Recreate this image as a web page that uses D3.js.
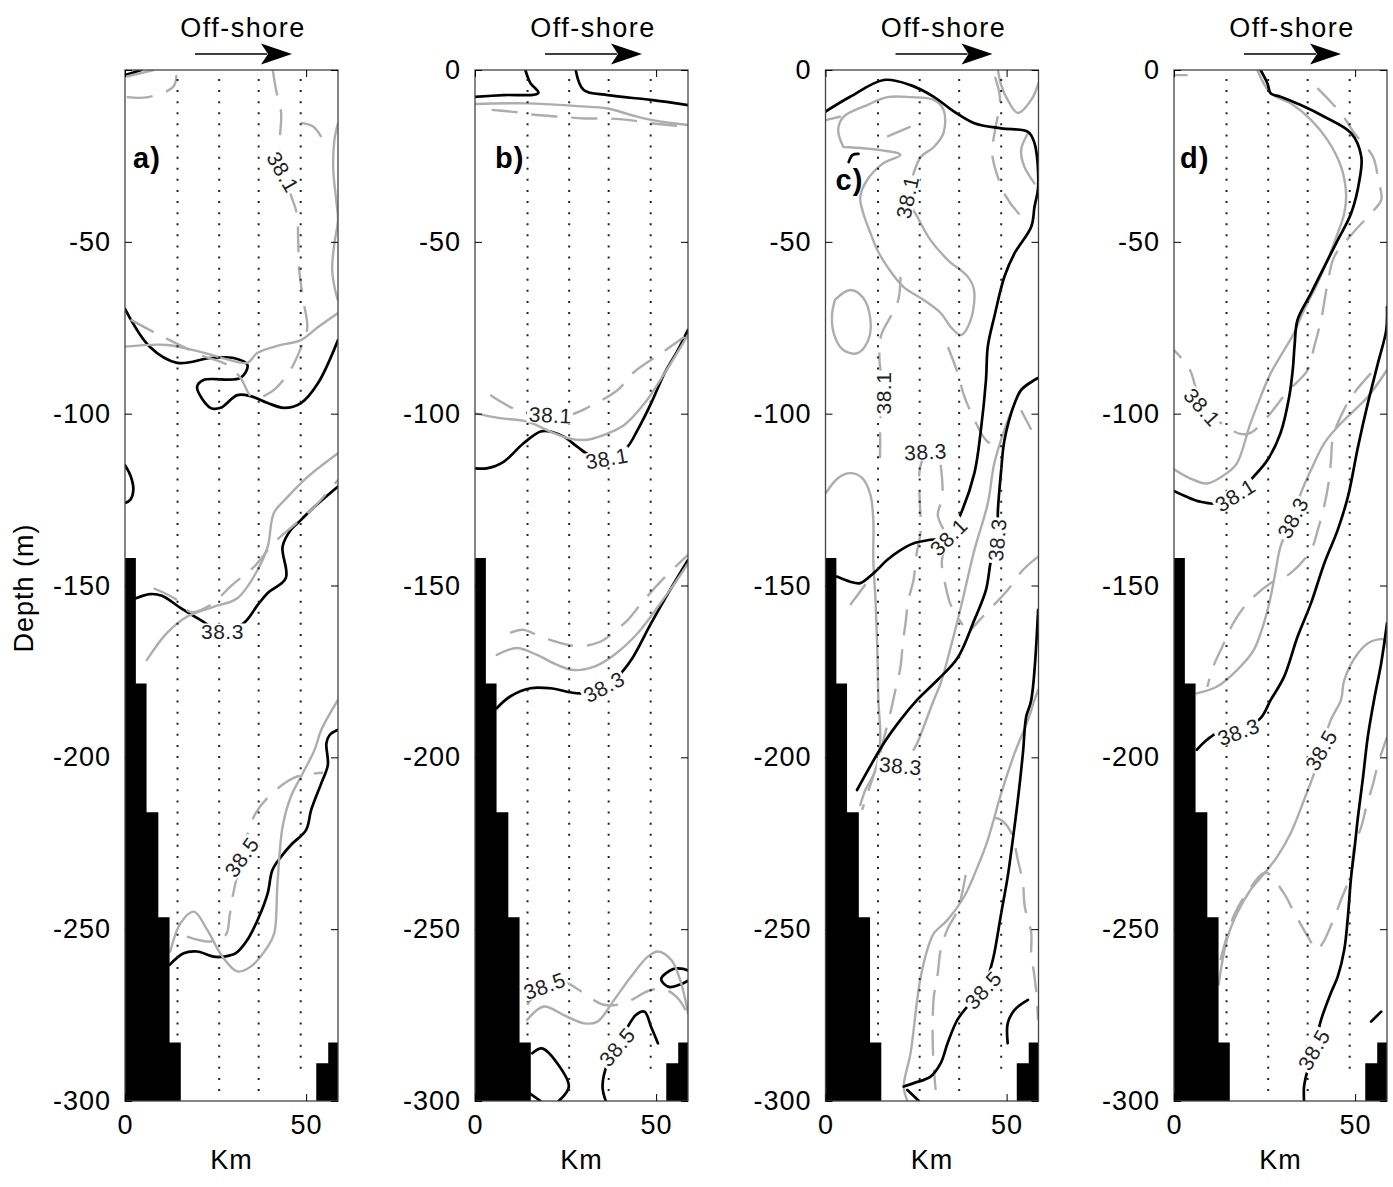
<!DOCTYPE html>
<html><head><meta charset="utf-8">
<script src="https://cdn.jsdelivr.net/npm/d3@7"></script>
<style>
body{margin:0;background:#fff;}
svg text{font-family:"Liberation Sans",Arial,Helvetica,sans-serif;}
</style></head><body>
<svg id="chart" width="1393" height="1187"></svg>
<script>
// ---------------- DATA (km offshore, depth m) ----------------
const panelNames = ['a)','b)','c)','d)'];
const yTicks = [0,-50,-100,-150,-200,-250,-300];
const xTicks = [0,50];
const stationKm = [14.5,26.0,36.9,48.5];
const stationTop = -2.6;
const stationBottom = [-282,-298,-298,-292];
const bathyLeft = [[0,-300],[0,-142],[3.0,-142],[3.0,-178.5],[5.95,-178.5],[5.95,-216],[9.2,-216],[9.2,-246.5],[12.3,-246.5],[12.3,-283],[15.4,-283],[15.4,-300]];
const bathyRight = [[52.8,-300],[52.8,-289],[56.1,-289],[56.1,-283],[58.8,-283],[58.8,-300]];

// panel a
const a_k0 = [[0,-1.5],[4.5,0]];
const a_k1 = [[0,-69.5],[6.9,-80.6],[14.4,-85.2],[23.6,-83.8],[30.0,-83.8],[33.8,-85.8],[31.9,-89.6],[21.7,-90.2],[19.9,-92.2],[23.6,-98.3],[26.4,-98.3],[31.0,-94.6],[34.7,-94.9],[39.4,-96.9],[43.9,-98.3],[48.6,-96.9],[53.3,-91.1],[58.8,-78.6]];
const a_k2 = [[0,-115],[1.5,-118],[2.3,-122],[1.5,-125],[0,-126]];
const a_k3 = [[3.0,-153.7],[6.9,-152.5],[10.2,-153.0],[15.3,-156.5],[20.8,-160.0],[26.9,-163.5],[32.8,-160.9],[36.6,-155.7],[39.4,-152.2],[44.4,-147.8],[43.5,-138.7],[45.8,-133.8],[48.6,-130.9],[52.3,-127.1],[58.8,-121.2]];
const a_k4 = [[12.3,-260.4],[16.2,-257.0],[19.9,-256.5],[24.5,-258.0],[27.3,-258.0],[30.6,-257.0],[33.8,-253.1],[37.0,-246.4],[39.4,-239.5],[40.7,-232.8],[43.1,-228.9],[45.8,-225.5],[50.0,-221.1],[51.4,-215.3],[54.2,-207.5],[56.0,-202.2],[55.6,-195.9],[56.5,-193.5],[58.8,-192.0]];
const a_g1 = [[0,-80.5],[11.6,-80.0],[20.8,-82.0],[30.0,-84.7],[33.8,-85.2],[36.6,-82.3],[43.1,-80.0],[48.6,-78.6],[53.3,-74.8],[58.8,-70.7]];
const a_g2 = [[0.5,-1.9],[7.9,0]];
const a_g3 = [[58.8,-15.5],[57.8,-20.4],[57.5,-29.1],[58.3,-37.8],[58.8,-43.6],[57.8,-50.4],[57.2,-58.2],[58.0,-64.0],[58.8,-67]];
const a_g4 = [[6.0,-171.7],[11.6,-163.8],[17.1,-159.1],[24.4,-156.2],[31.0,-153.7],[36.6,-145.5],[39.4,-138.7],[41.1,-128.9],[44.9,-124.2],[50.5,-118.3],[58.8,-111.5]];
const a_g5 = [[12.5,-256.5],[15.3,-248.3],[19.0,-244.9],[22.7,-250.2],[26.9,-258.0],[31.0,-262.3],[34.7,-260.9],[39.4,-255.1],[41.2,-251.2],[42.1,-236.6],[43.5,-220.2],[45.8,-211.4],[48.6,-205.6],[52.3,-197.9],[54.2,-192.0],[58.8,-183.3]];
const a_gd1 = [[40.8,0],[41.7,-5.8],[43.1,-12.5],[42.8,-18.9],[42.5,-23.3],[43.6,-29.7],[45.8,-36.4],[47.5,-42.2],[47.8,-49.5],[48.1,-58.2],[49.2,-66.9],[50.3,-75.1],[48.1,-82.0],[45.3,-87.9],[40.3,-93.7],[35.3,-95.4],[31.9,-89.6],[28.2,-85.8],[20.8,-82.9],[13.3,-79.1],[8.3,-76.5],[0.8,-72.2]];
const a_gd2 = [[0.5,-7.9],[6.4,-7.9],[13.3,-4.9],[14.2,-1.5]];
const a_gd3 = [[48.6,-15.4],[52,-16.5],[54.2,-19.5]];
const a_gd4 = [[7.9,-150.8],[14.4,-154.2],[18.1,-157.7],[23.6,-155.7],[29.6,-149.8],[35.6,-144.6],[41.1,-137.6],[46.7,-132.4],[52.3,-127.1],[58.8,-119.3]];
const a_gd5 = [[17.1,-252.2],[23.6,-253.6],[27.8,-251.7],[28.9,-245.9],[29.7,-240.6],[32.2,-229.0],[36.1,-216.2],[41.7,-209.5],[47.2,-205.7],[54.7,-204.5]];

// panel b
const b_k1 = [[13.9,0],[15.3,-3.8],[17.5,-6.7],[7.8,-7.3],[0,-7.8]];
const b_k2 = [[27.8,0],[30.0,-5.8],[36.7,-7.3],[48.6,-8.7],[58.8,-10.2]];
const b_k3 = [[0,-115.9],[3.2,-115.9],[7.9,-114.0],[13.4,-108.6],[18.1,-105.2],[20.8,-105.2],[24.5,-106.7],[28.2,-109.6],[31.5,-112.0],[36.4,-113.0],[41.7,-110.1],[44.9,-104.7],[48.6,-97.0],[52.3,-88.3],[56.0,-81.5],[58.8,-75.6]];
const b_k4 = [[6.0,-185.7],[9.7,-182.3],[15.3,-179.9],[20.8,-179.9],[29.2,-181.4],[35.6,-179.5],[39.4,-176.5],[43.1,-171.7],[48.6,-161.0],[53.3,-152.3],[58.8,-142.6]];
const b_k5 = [[58.8,-262.0],[57,-261.5],[54.7,-261.6],[51.4,-264.5],[53.5,-266.8],[56.9,-266.0],[58.8,-265.0]];
const b_k6 = [[50.5,-283.2],[48.6,-278.4],[46.8,-274.0],[44.4,-275.0],[39.2,-284.3],[36.6,-289.0],[35.2,-295.8],[36.1,-300]];
const b_k7 = [[15.8,-286.1],[18.5,-284.7],[22.7,-289.0],[25.9,-295.8],[23.1,-300]];
const b_k8 = [[15.3,-297.9],[18.1,-300]];
const b_g1 = [[0,-9.9],[14.4,-9.7],[28.3,-10.5],[36.6,-11.2],[43.1,-13.1],[48.6,-14.5],[58.8,-16.0]];
const b_g2 = [[0,-99.9],[6.9,-101.3],[14.4,-102.3],[20.8,-105.2],[25.5,-107.1],[31.0,-107.6],[35.6,-106.2],[41.2,-103.3],[46.8,-97.0],[52.3,-88.3],[58.8,-77.1]];
const b_g3 = [[6.0,-170.2],[11.6,-168.2],[17.1,-170.2],[22.7,-173.1],[27.3,-174.6],[32.9,-173.6],[38.4,-170.2],[44.9,-163.9],[50.5,-156.2],[55.1,-149.4],[58.8,-143.6]];
const b_g4 = [[14.4,-276.4],[19.0,-272.5],[24.5,-275.0],[30.1,-277.4],[33.8,-276.9],[38.4,-270.6],[43.1,-263.8],[47.7,-258.0],[50.5,-256.5],[54.2,-259.0],[56.9,-265.7],[58.8,-274.5]];
const b_gd1 = [[4.6,-11.6],[12.5,-12.4],[17.1,-13.1],[23.6,-13.6],[30.1,-14.1],[36.6,-14.1],[42.1,-14.5],[48.6,-15.5],[58.8,-16.5]];
const b_gd2 = [[4.2,-94.6],[11.6,-98.9],[20.8,-100.4],[26.9,-100.1],[31.5,-98.0],[39.4,-93.1],[44.0,-87.8],[51.4,-82.4],[57.8,-77.6]];
const b_gd3 = [[9.7,-163.8],[13.3,-162.9],[17.2,-164.4],[22.2,-166.3],[25.8,-167.3],[29.7,-167.6],[34.7,-166.3],[38.9,-163.0],[42.2,-160.0],[46.7,-154.2],[52.2,-147.8],[58.8,-141.1]];
const b_gd4 = [[14.4,-272.0],[19.2,-266.5],[25.0,-265.6],[28.7,-267.7],[35.6,-272.0],[41.2,-271.5],[48.6,-267.7],[52.8,-267.7],[56.4,-270.6],[58.8,-275.0]];

// panel c
const c_k1 = [[0,-12.1],[6.8,-7.8],[16.1,-2.9],[23.5,-4.4],[29.9,-7.8],[35.5,-12.1],[41.1,-15.5],[48.5,-17.0],[55.9,-18.0],[57.7,-21.3],[58.7,-34.0],[57.7,-39.8],[56.8,-45.6],[52.2,-53.3],[49.4,-60.1],[46.6,-71.8],[44.8,-80.5],[44.3,-90.2],[42.9,-104.7],[41.1,-117.3],[37.4,-129.0],[34.0,-135.9],[29.0,-136.7],[24.4,-137.7],[20.7,-139.7],[17.0,-142.6],[13.3,-146.4],[9.6,-149.3],[6.8,-148.9],[3.1,-147.4]];
const c_k2 = [[6.4,-26.8],[7.5,-24.7],[9.1,-24.4]];
const c_k3 = [[58.7,-89.6],[57.7,-90.2],[54.0,-93.1],[52.2,-97.0],[49.4,-107.7],[48.5,-116.4],[47.6,-128.0],[47.4,-136.7],[45.7,-142.6],[44.3,-151.3],[41.1,-160.0],[36.4,-171.2],[30.9,-177.5],[25.3,-183.3],[20.7,-189.1],[16.1,-195.9],[8.7,-209.5]];
const c_k4 = [[58.7,-157.1],[56.8,-183.3],[55.4,-188.2],[54.5,-198.8],[53.1,-212.4],[51.7,-224.0],[50.3,-234.7],[48.5,-245.4],[46.6,-257.0],[45.7,-260.9],[43.5,-267.7],[39.2,-272.5],[36.4,-276.4],[33.7,-283.2],[31.8,-289.0],[29.0,-292.9],[24.4,-294.8],[21.6,-295.8]];
const c_k5 = [[22.6,-296.8],[25.8,-300]];
const c_k6 = [[50.3,-283.2],[50.3,-277.4],[52.2,-273.5],[55.9,-270.6]];
const c_g1 = [[4.9,-22.4],[15.1,-23.3],[20.7,-24.7],[16.0,-27.1],[11.5,-32.0],[9.6,-37.0],[10.4,-41.6],[12.4,-47.4],[14.3,-52.4],[17.1,-57.3],[21.5,-63.1],[27.1,-66.9],[31.8,-70.7],[34.6,-74.8],[37.4,-77.1],[40.1,-72.7],[41.0,-64.0],[39.3,-60.2],[33.8,-55.3],[29.0,-49.5],[25.4,-42.8],[22.6,-37.0],[24.0,-31.1],[26.3,-25.3],[29.9,-22.4],[32.6,-18.3],[32.6,-11.6],[29.9,-8.7],[23.5,-7.9],[17.1,-7.9],[11.5,-10.2],[4.9,-13.7],[3.5,-17.5],[4.9,-22.4]];
const c_g1b = [[0.3,-14.5],[4.0,-13.6]];
const c_g2 = [[2.6,-66.9],[6.8,-64.0],[10.4,-66.3],[12.4,-72.7],[11.8,-78.6],[8.8,-82.4],[4.9,-81.5],[2.4,-77.1],[1.8,-71.3],[2.6,-66.9]];
const c_g3 = [[47.6,0],[48.5,-4.4],[50.3,-8.7],[53.1,-12.5],[56.8,-8.7],[58.8,-3.8]];
const c_g4 = [[55.9,-18.4],[54.0,-23.3],[54.9,-28.1],[57.7,-33.0]];
const c_g5 = [[0.1,-123.1],[3.5,-118.7],[6.8,-117.3],[10.1,-118.7],[12.4,-123.6],[13.2,-130.9],[13.2,-142.6],[13.8,-154.2],[14.3,-168.7],[14.6,-183.3],[15.1,-195.0],[13.8,-203.7],[11.0,-209.5],[9.6,-213.9]];
const c_g6 = [[58.7,-89.6],[57.7,-90.2],[54.9,-92.1],[52.2,-97.0],[49.4,-104.7],[46.6,-114.4],[44.8,-126.1],[41.1,-139.7],[37.4,-156.2],[34.6,-167.8],[31.8,-178.4],[29.9,-183.3],[25.3,-195.9],[24.3,-197.8]];
const c_g7 = [[22.6,-300],[21.6,-295.8],[23.5,-286.0],[25.3,-270.6],[26.3,-263.8],[28.1,-256.0],[29.9,-251.2],[33.7,-247.3],[38.3,-240.5],[42.0,-231.8],[44.8,-224.0],[48.5,-210.5],[52.2,-198.8],[55.9,-189.1],[57.7,-183.3],[58.7,-180.4]];
const c_gd1 = [[46.8,-2.0],[48.2,-8.7],[46.8,-17.5],[46.0,-24.2],[47.4,-30.6],[49.6,-36.4],[53.2,-41.6],[57.1,-45.1]];
const c_gd2 = [[17.0,-19.4],[23.5,-16.5]];
const c_gd3 = [[20.7,-60.2],[20.1,-66.9],[18.2,-71.3],[15.4,-77.1],[14.9,-84.4],[16.0,-94.0],[15.1,-101.8],[15.1,-109.0],[14.9,-116.4]];
const c_gd4 = [[27.6,-111.1],[26.0,-116.4],[26.0,-125.1],[26.3,-133.8],[25.1,-141.1],[24.3,-148.4],[22.9,-154.2],[22.1,-160.9],[21.3,-167.3],[20.7,-173.7],[19.3,-180.4],[17.9,-187.1],[16.0,-194.9],[14.6,-200.8],[12.4,-208.0],[10.1,-215.3]];
const c_gd5 = [[31.8,-114.9],[32.3,-124.2],[31.0,-129.5],[33.2,-135.9],[32.1,-143.4],[33.2,-150.4],[34.6,-155.7],[37.9,-161.5]];
const c_gd6 = [[33.8,-80.6],[36.5,-88.2],[38.2,-94.6],[40.9,-101.3],[44.3,-107.7],[47.1,-109.7]];
const c_gd7 = [[58.7,-141.6],[54.5,-145.5],[50.3,-151.3],[43.4,-159.1],[40.1,-162.9]];
const c_gd8 = [[46.5,-217.6],[48.5,-218.2],[51.3,-222.0],[53.1,-229.9],[54.5,-236.5],[55.0,-243.4],[56.8,-251.1],[56.8,-256.9],[57.7,-263.8],[58.2,-268.6],[58.7,-276.4]];
const c_gd9 = [[38.7,-234.2],[36.5,-244.4],[33.8,-249.7],[31.8,-256.0],[31.0,-262.8],[29.9,-269.7],[29.6,-276.4],[29.6,-283.1],[29.9,-290.1],[30.4,-296.8]];
const c_gd10 = [[6.8,-155.7],[11.3,-149.3]];
const c_gd11 = [[54.0,-99.0],[56.8,-104.7]];

// panel d
const d_k1 = [[23.9,0],[25.8,-3.9],[26.7,-6.8],[29.4,-7.8],[35.0,-10.2],[41.5,-13.6],[48.9,-18.4],[51.7,-25.2],[51.2,-32.0],[48.9,-41.7],[45.2,-49.5],[41.5,-57.2],[37.8,-65.0],[34.1,-72.7],[33.3,-80.0],[32.8,-87.0],[31.8,-95.1],[29.4,-105.7],[25.8,-113.5],[22.0,-118.3],[16.9,-123.7],[11.9,-126.1],[7.2,-125.6],[3.5,-124.2],[0,-122.5]];
const d_k2 = [[58.8,-69.0],[58.6,-75.6],[56.3,-85.3],[53.5,-97.0],[50.8,-109.6],[48.0,-124.2],[45.2,-133.8],[41.5,-143.5],[37.8,-155.2],[34.1,-164.9],[30.4,-176.5],[26.7,-183.3],[23.9,-188.6],[17.8,-192.6],[11.9,-193.0],[9.1,-194.9],[6.3,-197.8]];
const d_k3 = [[35.9,-300],[35.9,-295.8],[36.9,-290.9],[38.6,-285.1],[40.6,-276.4],[43.3,-268.6],[45.2,-263.8],[47.0,-256.0],[48.0,-246.4],[48.9,-234.7],[49.8,-226.9],[50.8,-217.2],[52.2,-205.6],[53.5,-194.0],[55.4,-182.3],[57.2,-172.6],[58.8,-161.0]];
const d_k4 = [[54.4,-276.9],[57.2,-274.0]];
const d_g1 = [[23.0,0],[26.7,-6.8],[32.2,-9.7],[37.8,-14.5],[42.4,-20.4],[46.1,-28.1],[47.5,-35.9],[47.0,-41.7],[45.2,-47.5],[42.4,-55.3],[39.6,-62.1],[35.9,-69.8],[33.1,-76.6],[30.4,-81.5],[26.7,-88.2],[23.9,-95.1],[21.1,-102.8],[17.4,-114.4],[14.6,-117.3],[9.1,-120.3],[4.4,-118.8],[0,-116.2]];
const d_g2 = [[6.3,-181.4],[11.9,-179.4],[17.4,-174.6],[22.0,-168.8],[24.8,-161.0],[26.7,-153.2],[28.1,-145.5],[29.4,-138.7],[32.8,-130.3],[35.0,-123.2],[37.8,-116.4],[41.5,-108.6],[45.2,-103.8],[48.9,-99.9],[53.5,-95.1],[58.8,-87.3]];
const d_g3 = [[12.3,-266.2],[14.6,-253.1],[17.4,-245.4],[21.1,-238.6],[25.3,-233.3],[28.5,-228.9],[32.2,-222.1],[35.9,-212.4],[38.7,-204.6],[40.6,-197.9],[43.3,-189.1],[46.1,-183.3],[47.0,-177.5],[50.8,-169.7],[54.4,-166.3],[58.1,-165.8],[58.8,-167.9]];
const d_g4 = [[0.3,-1.5],[3.5,-1.5]];
const d_gd1 = [[39.6,-5.3],[46.1,-12.6],[49.8,-18.4],[54.9,-25.2],[56.4,-32.0],[57.2,-37.8],[53.9,-42.2],[48.9,-48.0],[44.2,-54.4],[42.4,-62.1],[40.6,-72.7],[38.7,-80.5],[36.9,-87.3],[31.3,-93.6],[25.8,-100.9],[21.1,-105.6],[18.3,-105.9],[14.7,-103.9],[7.8,-98.1],[4.4,-87.3],[0,-81.5]];
const d_gd3 = [[54.4,-88.2],[49.7,-94.0],[46.9,-98.9],[43.9,-106.8],[43.3,-114.1],[42.5,-121.3],[41.4,-127.1],[39.7,-133.8],[37.8,-139.7],[32.2,-146.4],[26.7,-149.3],[20.3,-155.1],[16.4,-160.9],[13.3,-167.9],[10.8,-173.7],[9.2,-179.5]];
const d_gd4 = [[12.8,-259.0],[16.4,-246.4],[20.3,-239.2],[25.3,-233.6],[30.3,-239.5],[33.1,-245.0],[37.2,-252.6],[39.4,-256.0],[41.1,-254.0],[44.2,-246.7],[46.1,-241.5],[48.9,-233.6],[49.7,-226.1],[51.7,-220.2],[53.1,-214.4],[55.0,-207.5],[56.4,-201.6],[58.8,-194.1]];

// contour labels: [panel, km, depth, text, angle]
const contourLabels = [
  [0,43.6,-29.7,'38.1',60],[0,26.9,-163.5,'38.3',0],[0,32.2,-229.0,'38.5',-55],
  [1,20.8,-100.4,'38.1',3],[1,36.4,-113.0,'38.1',-10],[1,35.6,-179.5,'38.3',-28],[1,19.2,-266.5,'38.5',-20],[1,39.2,-284.3,'38.5',-50],
  [2,22.6,-37.0,'38.1',-78],[2,16.0,-94.0,'38.1',-90],[2,27.6,-111.1,'38.3',-3],[2,34.0,-135.9,'38.1',-45],[2,47.4,-136.7,'38.3',-85],[2,20.7,-202.5,'38.3',5],[2,43.5,-267.7,'38.5',-48],
  [3,7.8,-98.1,'38.1',48],[3,16.9,-123.7,'38.1',-32],[3,32.8,-130.3,'38.3',-62],[3,17.8,-192.6,'38.3',-20],[3,40.6,-197.9,'38.5',-60],[3,38.6,-285.1,'38.5',-60]
];

const contours = [
  [0,'k',a_k0],[0,'k',a_k1],[0,'k',a_k2],[0,'k',a_k3],[0,'k',a_k4],
  [0,'g',a_g1],[0,'g',a_g2],[0,'g',a_g3],[0,'g',a_g4],[0,'g',a_g5],
  [0,'gd',a_gd1],[0,'gd',a_gd2],[0,'gd',a_gd3],[0,'gd',a_gd4],[0,'gd',a_gd5],
  [1,'k',b_k1],[1,'k',b_k2],[1,'k',b_k3],[1,'k',b_k4],[1,'k',b_k5],[1,'k',b_k6],[1,'k',b_k7],[1,'k',b_k8],
  [1,'g',b_g1],[1,'g',b_g2],[1,'g',b_g3],[1,'g',b_g4],
  [1,'gd',b_gd1],[1,'gd',b_gd2],[1,'gd',b_gd3],[1,'gd',b_gd4],
  [2,'g',c_g1],[2,'g',c_g1b],[2,'g',c_g2],[2,'g',c_g3],[2,'g',c_g4],[2,'g',c_g5],[2,'g',c_g6],[2,'g',c_g7],
  [2,'gd',c_gd1],[2,'gd',c_gd2],[2,'gd',c_gd3],[2,'gd',c_gd4],[2,'gd',c_gd5],[2,'gd',c_gd6],[2,'gd',c_gd7],[2,'gd',c_gd8],[2,'gd',c_gd9],[2,'gd',c_gd10],[2,'gd',c_gd11],
  [2,'k',c_k1],[2,'k',c_k2],[2,'k',c_k3],[2,'k',c_k4],[2,'k',c_k5],[2,'k',c_k6],
  [3,'g',d_g1],[3,'g',d_g2],[3,'g',d_g3],[3,'g',d_g4],
  [3,'gd',d_gd1],[3,'gd',d_gd3],[3,'gd',d_gd4],
  [3,'k',d_k1],[3,'k',d_k2],[3,'k',d_k3],[3,'k',d_k4]
];

// ---------------- LAYOUT / STYLE ----------------
const lefts = [125,475,825.5,1174];
const PW = 213, TOP = 70, BOT = 1101;
const styles = {
  k:{stroke:'#000', w:2.7, dash:null},
  g:{stroke:'#adadad', w:2.4, dash:null},
  gd:{stroke:'#adadad', w:2.4, dash:'26,14'}
};
const nameOffsets = [[8,168],[20,168],[10,190],[6,168]];
const FONT = 27;

const svg = d3.select('#chart');
const y = d3.scaleLinear().domain([0,-300]).range([TOP,BOT]);

svg.append('text').attr('transform','translate(33,588) rotate(-90)')
  .attr('text-anchor','middle').attr('font-size',FONT).attr('letter-spacing',1).text('Depth (m)');

lefts.forEach((L,i)=>{
  const x = d3.scaleLinear().domain([0,58.8]).range([L,L+PW]);
  const cid = 'clip'+i;
  svg.append('clipPath').attr('id',cid).append('rect')
    .attr('x',L).attr('y',TOP).attr('width',PW).attr('height',BOT-TOP);
  const plot = svg.append('g').attr('clip-path',`url(#${cid})`);
  const line = d3.line().x(d=>x(d[0])).y(d=>y(d[1])).curve(d3.curveCatmullRom.alpha(0.5));
  const poly = d3.line().x(d=>x(d[0])).y(d=>y(d[1]));

  contours.filter(c=>c[0]===i).forEach(c=>{
    const s = styles[c[1]];
    plot.append('path').attr('d',line(c[2])).attr('fill','none')
      .attr('stroke',s.stroke).attr('stroke-width',s.w)
      .attr('stroke-dasharray',s.dash)
      .attr('stroke-linejoin','round').attr('stroke-linecap',c[1]==='gd'?'butt':'round');
  });

  plot.append('path').attr('d',poly(bathyLeft)+'Z').attr('fill','#000');
  plot.append('path').attr('d',poly(bathyRight)+'Z').attr('fill','#000');

  stationKm.forEach((k,j)=>{
    plot.append('line').attr('x1',x(k)).attr('x2',x(k))
      .attr('y1',y(stationTop)).attr('y2',y(stationBottom[j]))
      .attr('stroke','#222').attr('stroke-width',2).attr('stroke-dasharray','2,9.1');
  });

  contourLabels.filter(l=>l[0]===i).forEach(l=>{
    const gl = plot.append('g').attr('transform',`translate(${x(l[1])},${y(l[2])}) rotate(${l[4]})`);
    const t = gl.append('text')
      .attr('text-anchor','middle').attr('dy','0.36em')
      .attr('font-size',21).attr('letter-spacing',0.5)
      .attr('fill','#222').text(l[3]);
    const bb = t.node().getBBox();
    gl.insert('rect','text').attr('x',bb.x-2).attr('y',bb.y+3)
      .attr('width',bb.width+3).attr('height',Math.max(0,bb.height-6)).attr('fill','#fff');
  });

  // frame
  svg.append('rect').attr('x',L).attr('y',TOP).attr('width',PW).attr('height',BOT-TOP)
    .attr('fill','none').attr('stroke','#444').attr('stroke-width',1.3);

  // axes
  const ax = g=>g.attr('font-size',FONT).attr('font-family','"Liberation Sans",Arial,sans-serif').style('color','#000');
  svg.append('g').attr('transform',`translate(${L},0)`)
    .call(d3.axisLeft(y).tickValues(yTicks).tickSize(-7).tickPadding(14)
      .tickFormat(d=> (i===0 && d===0) ? '' : String(d)))
    .call(ax).call(g=>g.select('.domain').remove())
    .call(g=>g.selectAll('text').attr('letter-spacing',1));
  svg.append('g').attr('transform',`translate(${L+PW},0)`)
    .call(d3.axisRight(y).tickValues(yTicks).tickSize(-7).tickFormat(''))
    .call(ax).call(g=>g.select('.domain').remove());
  svg.append('g').attr('transform',`translate(0,${BOT})`)
    .call(d3.axisBottom(x).tickValues(xTicks).tickSize(-7).tickPadding(14).tickFormat(d=>String(d)))
    .call(ax).call(g=>g.select('.domain').remove())
    .call(g=>g.selectAll('text').attr('letter-spacing',1));
  svg.append('g').attr('transform',`translate(0,${TOP})`)
    .call(d3.axisTop(x).tickValues(xTicks).tickSize(-7).tickFormat(''))
    .call(ax).call(g=>g.select('.domain').remove());

  // panel name
  svg.append('text').attr('x',L+nameOffsets[i][0]).attr('y',nameOffsets[i][1])
    .attr('font-size',29).attr('font-weight','bold').attr('letter-spacing',1).text(panelNames[i]);

  // x title
  svg.append('text').attr('x',L+PW/2).attr('y',1169).attr('text-anchor','middle')
    .attr('font-size',FONT).attr('letter-spacing',1).text('Km');

  // Off-shore arrow
  svg.append('text').attr('x',L+118).attr('y',37).attr('text-anchor','middle')
    .attr('font-size',FONT).attr('letter-spacing',1.5).text('Off-shore');
  svg.append('line').attr('x1',L+70).attr('x2',L+142).attr('y1',54).attr('y2',54)
    .attr('stroke','#000').attr('stroke-width',1.6);
  svg.append('path').attr('d',`M${L+167},54 L${L+136},43.5 L${L+143},54 L${L+136},64.5 Z`).attr('fill','#000');
});
</script>
</body></html>
